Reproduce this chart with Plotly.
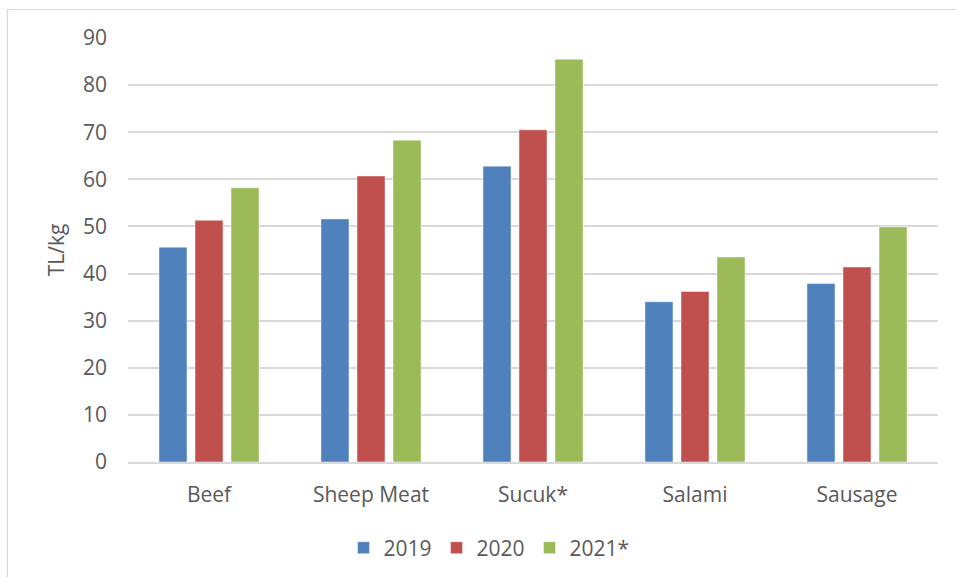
import plotly.graph_objects as go

categories = ["Beef", "Sheep Meat", "Sucuk*", "Salami", "Sausage"]
series_names = ["2019", "2020", "2021*"]
values_2019 = [45.6, 51.6, 62.8, 34.0, 37.9]
values_2020 = [51.3, 60.7, 70.5, 36.2, 41.4]
values_2021 = [58.2, 68.3, 85.5, 43.5, 49.9]
colors = ["#4F81BD", "#C0504D", "#9BBB59"]
y_ticks = [0, 10, 20, 30, 40, 50, 60, 70, 80, 90]

FONT = "Open Sans, Liberation Sans, Arial, sans-serif"
TXT = "#595959"
FS = 21

fig = go.Figure()
for name, vals, col in zip(series_names, [values_2019, values_2020, values_2021], colors):
    fig.add_trace(go.Bar(
        name=name, x=categories, y=vals,
        marker=dict(color=col, line=dict(color="rgba(255,255,255,0.45)", width=1)),
    ))

W, H = 956, 577
L, R, T, B = 128, 956 - 938, 38, 577 - 462
pw, ph = W - L - R, H - T - B

def px(xp):
    return (xp - L) / pw

def py(yp):
    return (H - B - yp) / ph

fig.update_layout(
    width=W, height=H,
    margin=dict(l=L, r=R, t=T, b=B, pad=0, autoexpand=False),
    paper_bgcolor="white", plot_bgcolor="white",
    barmode="group", bargap=0.333, bargroupgap=0.222,
    font=dict(family=FONT, size=FS, color=TXT),
    showlegend=True,
    legend=dict(orientation="h", x=px(489), xanchor="center", y=py(548), yanchor="middle",
                font=dict(family=FONT, size=FS, color=TXT), bgcolor="rgba(0,0,0,0)",
                itemclick=False, traceorder="normal"),
    xaxis=dict(showgrid=False, showline=True, linecolor="#D9D9D9", linewidth=1.5,
               ticks="", tickfont=dict(family=FONT, size=FS, color=TXT), ticklabelstandoff=13,
               automargin=False, fixedrange=True),
    yaxis=dict(range=[0, 90], tickvals=y_ticks, showgrid=True, gridcolor="#D9D9D9", gridwidth=1.5,
               zeroline=False, showline=False, ticks="",
               tickfont=dict(family=FONT, size=FS, color=TXT), ticklabelstandoff=20,
               title=dict(text="TL/kg", font=dict(family=FONT, size=FS, color=TXT), standoff=12),
               automargin=False, fixedrange=True),
    shapes=[dict(type="rect", xref="paper", yref="paper",
                 x0=px(7.5), x1=px(990), y0=py(600), y1=py(9.5),
                 line=dict(color="#D9D9D9", width=1.2), fillcolor="rgba(0,0,0,0)", layer="below")],
)

fig.write_html("out.html", config={"displayModeBar": False})
